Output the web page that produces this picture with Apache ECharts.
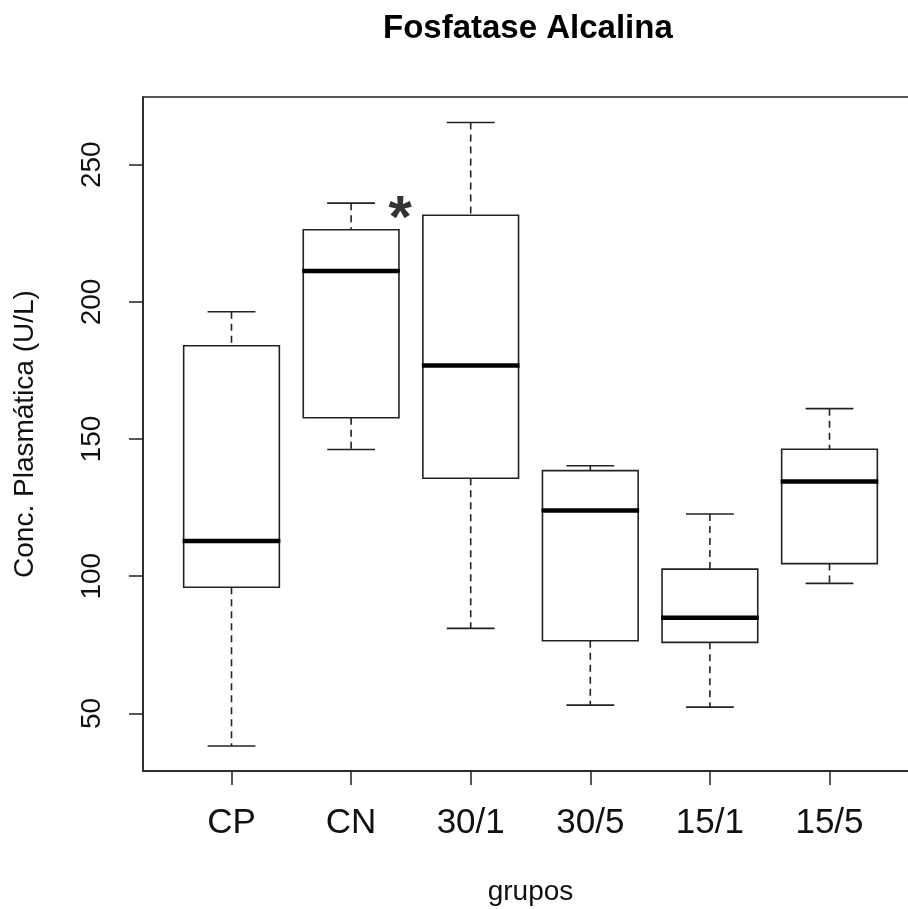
<!DOCTYPE html>
<html>
<head>
<meta charset="utf-8">
<title>Fosfatase Alcalina</title>
<script src="https://cdn.jsdelivr.net/npm/echarts@6/dist/echarts.min.js"></script>
<style>
  html, body { margin: 0; padding: 0; background: #fff; overflow: hidden; }
  #chart { width: 908px; height: 909px; }
</style>
</head>
<body>
<div id="chart"></div>
<script>
// groups and five-number summaries
const groups = ['CP', 'CN', '30/1', '30/5', '15/1', '15/5']
const mins    = [38.1, 146.2, 81.0, 53.0, 52.3, 97.4]
const q1s     = [96.0, 157.8, 135.7, 76.5, 75.9, 104.6]
const medians = [112.8, 211.3, 176.8, 124.0, 84.9, 134.5]
const q3s     = [184.0, 226.3, 231.6, 138.5, 102.6, 146.3]
const maxs    = [196.4, 236.0, 265.4, 140.3, 122.7, 161.1]
const yTicks  = [50, 100, 150, 200, 250]
const xTicks  = [1, 2, 3, 4, 5, 6]
// significance mark next to CN
const starMark = [2.41, 234.5]

const FONT = '"Liberation Sans", Arial, sans-serif'
const INK = '#222'

const boxData = groups.map((g, i) => [i + 1, mins[i], q1s[i], medians[i], q3s[i], maxs[i]])

function renderBox(params, api) {
  const x = api.value(0)
  const lo = api.coord([x, api.value(1)])
  const q1 = api.coord([x, api.value(2)])
  const med = api.coord([x, api.value(3)])
  const q3 = api.coord([x, api.value(4)])
  const hi = api.coord([x, api.value(5)])
  const halfBox = api.size([0.8, 0])[0] / 2
  const halfCap = halfBox / 2
  const cx = lo[0]
  const line = (x1, y1, x2, y2, extra) => ({
    type: 'line',
    shape: { x1, y1, x2, y2 },
    style: Object.assign({ stroke: INK, lineWidth: 1.6 }, extra || {})
  })
  return {
    type: 'group',
    children: [
      // whiskers (dashed) and staples
      line(cx, hi[1], cx, q3[1], { lineDash: [7, 5] }),
      line(cx, q1[1], cx, lo[1], { lineDash: [7, 5] }),
      line(cx - halfCap, hi[1], cx + halfCap, hi[1]),
      line(cx - halfCap, lo[1], cx + halfCap, lo[1]),
      {
        type: 'rect',
        shape: { x: cx - halfBox, y: q3[1], width: halfBox * 2, height: q1[1] - q3[1] },
        style: { fill: '#fff', stroke: INK, lineWidth: 1.6 }
      },
      line(cx - halfBox - 1, med[1], cx + halfBox + 1, med[1], { stroke: '#000', lineWidth: 4.5 })
    ]
  }
}

const chart = echarts.init(document.getElementById('chart'), null, { renderer: 'canvas' })

chart.setOption({
  animation: false,
  backgroundColor: '#fff',
  title: {
    text: 'Fosfatase Alcalina',
    left: 383, top: 12, padding: 0,
    textStyle: { fontFamily: FONT, fontSize: 33, fontWeight: 'bold', color: '#000' }
  },
  // plot box runs past the right edge of the picture, as in the original
  grid: {
    left: 143, top: 97, width: 775, bottom: 138,
    outerBoundsMode: 'none',
    containLabel: false,
    show: true, borderColor: INK, borderWidth: 1.5, backgroundColor: 'transparent'
  },
  xAxis: {
    type: 'value',
    min: 0.26, max: 6.74,
    name: 'grupos',
    nameLocation: 'middle',
    nameGap: 107,
    nameTextStyle: { fontFamily: FONT, fontSize: 28, color: '#111' },
    axisLine: { show: true, onZero: false, lineStyle: { color: INK, width: 1.5 } },
    axisTick: { show: true, length: 14, customValues: xTicks, lineStyle: { color: INK, width: 1.5 } },
    axisLabel: {
      customValues: xTicks,
      margin: 35,
      fontFamily: FONT, fontSize: 35, color: '#111',
      formatter: v => groups[Math.round(v) - 1]
    },
    splitLine: { show: false }
  },
  yAxis: {
    type: 'value',
    min: 29.0, max: 274.7,
    name: 'Conc. Plasmática (U/L)',
    nameLocation: 'middle',
    nameGap: 104,
    nameTextStyle: { fontFamily: FONT, fontSize: 28, color: '#111' },
    axisLine: { show: true, lineStyle: { color: INK, width: 1.5 } },
    axisTick: { show: true, length: 14, customValues: yTicks, lineStyle: { color: INK, width: 1.5 } },
    axisLabel: {
      customValues: yTicks,
      rotate: 90,
      margin: 37,
      fontFamily: FONT, fontSize: 28, color: '#111'
    },
    splitLine: { show: false }
  },
  series: [
    {
      type: 'custom',
      name: 'Fosfatase Alcalina',
      renderItem: renderBox,
      data: boxData,
      encode: { x: 0, y: [1, 2, 3, 4, 5] },
      z: 3
    },
    {
      type: 'scatter',
      symbol: 'circle',
      symbolSize: 1,
      itemStyle: { color: 'rgba(0,0,0,0)' },
      data: [starMark],
      label: {
        show: true,
        position: 'inside',
        formatter: '*',
        offset: [0, 13],
        fontFamily: FONT, fontSize: 60, fontWeight: 'bold', color: '#000'
      },
      z: 4
    }
  ]
})
</script>
</body>
</html>
